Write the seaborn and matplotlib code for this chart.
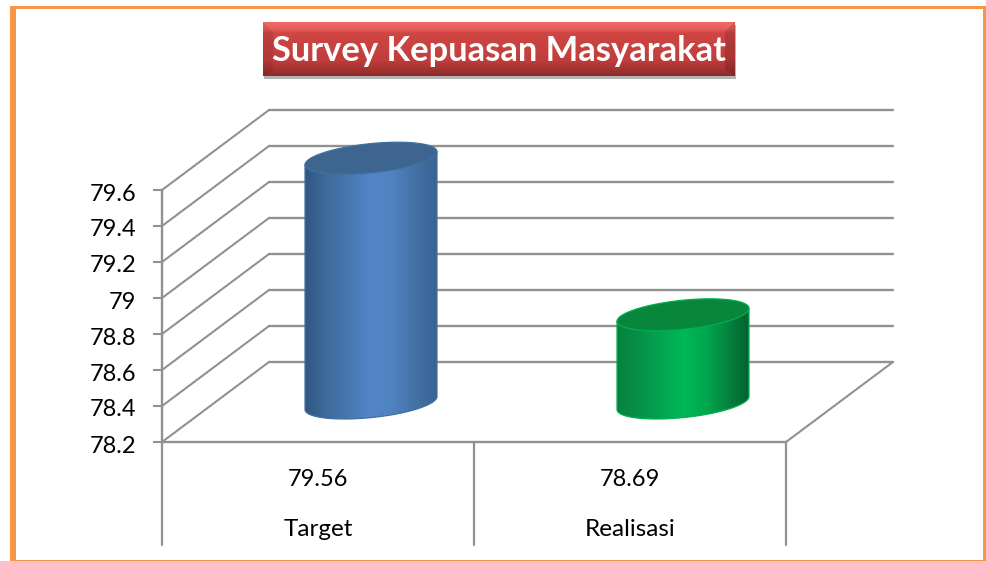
import matplotlib
matplotlib.use('Agg')
import matplotlib.pyplot as plt
import numpy as np
import pandas as pd
import seaborn as sns
from matplotlib.colors import LinearSegmentedColormap
from matplotlib.patches import PathPatch, Polygon, Rectangle
from matplotlib.path import Path
from matplotlib.transforms import Affine2D, blended_transform_factory

# data
categories = ['Target', 'Realisasi']
values = [79.56, 78.69]
y_ticks = [78.2, 78.4, 78.6, 78.8, 79, 79.2, 79.4, 79.6]
title = 'Survey Kepuasan Masyarakat'

W, H = 986, 561
DEPTH = (107, 80)  # back wall offset, px

sns.set_theme(style='white')
plt.rcParams['font.family'] = ['Lato', 'DejaVu Sans']
grid = '#919191'

fig = plt.figure(figsize=(W / 100, H / 100), dpi=100)
ax = fig.add_axes([162 / W, (H - 442) / H, 624 / W, 252 / H])

df = pd.DataFrame({'cat': categories, 'val': values})
sns.barplot(data=df, x='cat', y='val', width=0.423, ax=ax)
ax.set_xlim(-0.5, 1.5)
ax.set_ylim(78.2, 79.6)
ax.set_xlabel('')
ax.set_ylabel('')
ax.patch.set_alpha(0)

# y axis
ax.set_yticks(y_ticks)
ax.set_yticklabels([f'{t:g}' for t in y_ticks])
ax.tick_params(axis='y', left=True, length=6.5, width=1.5, color=grid, pad=12, labelsize=17, labelcolor='#000000')
for lab in ax.get_yticklabels():
    lab.set_transform(lab.get_transform() + Affine2D().translate(0, -2))
sns.despine(ax=ax)
for s in ['left', 'bottom']:
    ax.spines[s].set_color(grid)
    ax.spines[s].set_linewidth(1.7)

# category labels and value row under the floor
ax.set_xticks(range(len(categories)))
ax.set_xticklabels(categories)
ax.tick_params(axis='x', bottom=False, pad=49.5, labelsize=17.5, labelcolor='#000000')
for i, v in enumerate(values):
    ax.annotate(f'{v:g}', (i, 0), xycoords=ax.get_xaxis_transform(), xytext=(0, -37),
                textcoords='offset pixels', ha='center', va='center', fontsize=17, color='#000000')
trans = blended_transform_factory(ax.transData, ax.transAxes)
for x in [-0.5, 0.5, 1.5]:
    ax.plot([x, x], [0, -103 / 252], transform=trans, color=grid, lw=1.6, clip_on=False)

# back wall, side wall, floor
back = ax.transData + Affine2D().translate(*DEPTH)
for t in y_ticks:
    ax.plot([-0.5, 1.5], [t, t], transform=back, color=grid, lw=1.7, clip_on=False)
    p0 = ax.transData.transform((-0.5, t))
    ax.plot([p0[0], p0[0] + DEPTH[0]], [p0[1], p0[1] + DEPTH[1]], transform=None, color=grid, lw=1.5, clip_on=False)
p0 = ax.transData.transform((1.5, 78.2))
ax.plot([p0[0], p0[0] + DEPTH[0]], [p0[1], p0[1] + DEPTH[1]], transform=None, color=grid, lw=1.5, clip_on=False)

# overlay in pixel coords for frame, title box and cylinders
ov = fig.add_axes([0, 0, 1, 1])
ov.set_xlim(0, W)
ov.set_ylim(H, 0)
ov.axis('off')
ov.patch.set_alpha(0)

orange = '#f79646'
for x, y, w, h in [(10, 6, 976, 3), (10, 6, 6, 555), (983, 6, 3, 555), (10, 559.5, 976, 1.5)]:
    ov.add_patch(Rectangle((x, y), w, h, fc=orange, ec='none'))


def cylinder(cx, top, bottom, half, cols, lid, rim):
    t = np.linspace(0, np.pi, 80)
    tilt, b = 6.5, 14.6
    # front half of the base plus the sides
    xs = cx + half * np.cos(t)
    ys = bottom - tilt * np.cos(t) + b * np.sin(t)
    ring = np.column_stack([xs, ys])
    pts = np.vstack([[cx + half, top - tilt], ring, [cx - half, top + tilt]])
    path = Path(np.vstack([pts, pts[0]]), closed=True)
    body = PathPatch(path, fc='none', ec='none', transform=ov.transData)
    ov.add_patch(body)
    cmap = LinearSegmentedColormap.from_list('c', cols)
    im = ov.imshow(np.linspace(0, 1, 256)[None, :], cmap=cmap, aspect='auto',
                   extent=[cx - half, cx + half, bottom + 20, top - 20], zorder=3)
    im.set_clip_path(body)
    ov.add_patch(PathPatch(path, fc='none', ec=rim, lw=0.9, zorder=3.5))
    t = np.linspace(0, 2 * np.pi, 160)
    cap = np.column_stack([cx + half * np.cos(t), top - tilt * np.cos(t) + b * np.sin(t)])
    ov.add_patch(Polygon(cap, closed=True, fc=lid, ec=rim, lw=0.9, zorder=4))


blue = ['#2f5782', '#3f6a9b', '#4877b0', '#5386c7', '#5082c0', '#4472a8', '#386492']
green = ['#06823c', '#07904a', '#02a552', '#00b856', '#01a850', '#058540', '#04622f']
styles = [(blue, '#3d6590', '#41709f'), (green, '#07863c', '#00b050')]
bars = list(ax.patches)
fig.canvas.draw()
for bar, (cols, lid, rim) in zip(bars, styles):
    xc = bar.get_x() + bar.get_width() / 2
    left = ax.transData.transform((bar.get_x(), 78.2))
    right = ax.transData.transform((bar.get_x() + bar.get_width(), 78.2))
    top_px = H - (ax.transData.transform((xc, bar.get_height()))[1] + 39)
    base_px = H - (left[1] + 39)
    cylinder((left[0] + right[0]) / 2 + 53, top_px, base_px, (right[0] - left[0]) / 2, cols, lid, rim)
    bar.set_visible(False)

# title box
x0, x1, y0, y1 = 263, 735, 22, 76
bev = 10
ov.add_patch(Rectangle((x0 + 1, y0 + 3), x1 - x0, y1 - y0, fc='#444444', alpha=0.4, ec='none', zorder=5))
face = LinearSegmentedColormap.from_list('r', [(0, '#f06a68'), (0.12, '#e85e5c'), (0.2, '#cf4644'),
                                               (0.7, '#c13e3c'), (0.86, '#a83533'), (1, '#8c2b2a')])
ov.imshow(np.linspace(0, 1, 64)[:, None], cmap=face, aspect='auto', extent=[x0, x1, y1, y0], zorder=6)
ov.add_patch(Polygon([(x0, y0), (x0 + bev, y0 + 10), (x0 + bev, y1 - 7), (x0, y1)], fc='#000000', alpha=0.08, ec='none', zorder=7))
ov.add_patch(Polygon([(x1, y0), (x1 - bev, y0 + 10), (x1 - bev, y1 - 7), (x1, y1)], fc='#000000', alpha=0.14, ec='none', zorder=7))
ov.text((x0 + x1) / 2, 51, title, color='white', fontsize=24.8, fontweight='bold', ha='center', va='center', zorder=8)
ov.set_xlim(0, W)
ov.set_ylim(H, 0)

fig.savefig('out.png', dpi=100, facecolor='white')
